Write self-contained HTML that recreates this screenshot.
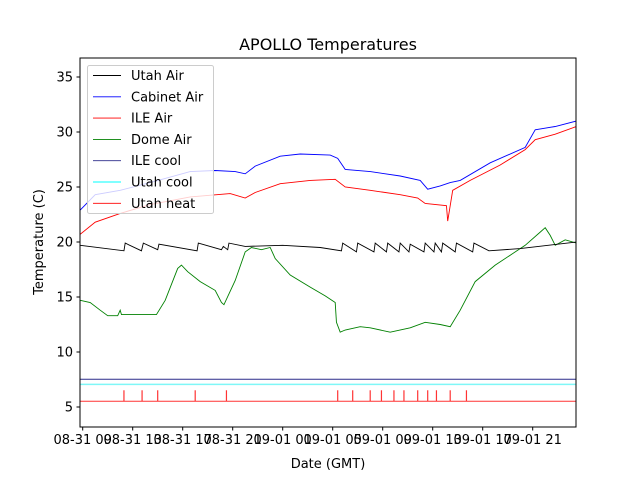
<!DOCTYPE html>
<html><head><meta charset="utf-8"><style>
body{margin:0;background:#fff}
svg{font-family:"DejaVu Sans","Liberation Sans",sans-serif}
</style></head><body>
<svg id="c" width="640" height="480" xmlns="http://www.w3.org/2000/svg"></svg>
<script>
// Hours since 08-31 09:00 GMT
const xTickHours=[0,4,8,12,16,20,24,28,32,36];
const xTickLabels=["08-31 09","08-31 13","08-31 17","08-31 21","09-01 01","09-01 05","09-01 09","09-01 13","09-01 17","09-01 21"];
const yTicks=[5,10,15,20,25,30,35];
const cabinetT=[-0.2,1.0,3.0,5.4,8.6,10.6,12.2,13.0,13.8,15.8,17.4,19.8,20.4,21.0,23.0,25.4,27.0,27.6,28.6,29.4,30.2,32.6,35.4,36.2,37.8,39.5];
const cabinetV=[22.9,24.3,24.7,25.4,26.4,26.5,26.4,26.2,26.9,27.8,28.0,27.9,27.6,26.6,26.4,26.0,25.6,24.8,25.1,25.4,25.6,27.2,28.6,30.2,30.5,31.0];
const ileT=[-0.2,1.0,3.0,5.4,8.6,11.8,13.0,13.8,15.8,18.2,20.2,21.0,23.0,25.4,26.8,27.4,29.1,29.2,29.6,31.0,33.4,35.4,36.2,37.8,39.5];
const ileV=[20.7,21.8,22.6,23.4,24.1,24.4,24.0,24.5,25.3,25.6,25.7,25.0,24.7,24.3,24.0,23.5,23.3,21.9,24.7,25.6,27.0,28.4,29.3,29.8,30.5];
const domeT=[-0.2,0.6,1.4,2.0,2.8,3.0,3.1,5.4,5.9,6.6,7.6,7.9,8.4,9.4,10.6,11.1,11.3,12.2,13.0,13.5,14.3,15.0,15.4,16.6,18.2,19.4,20.2,20.3,20.6,21.0,22.2,23.0,24.6,26.2,27.4,28.6,29.4,30.2,31.4,33.0,34.2,35.4,36.6,37.0,37.4,37.8,38.6,39.5];
const domeV=[14.7,14.5,13.8,13.3,13.3,13.8,13.4,13.4,13.4,14.7,17.6,17.9,17.3,16.4,15.6,14.5,14.3,16.5,19.1,19.5,19.3,19.5,18.5,17.0,15.9,15.1,14.5,12.7,11.8,12.0,12.3,12.2,11.8,12.2,12.7,12.5,12.3,13.8,16.4,17.9,18.8,19.7,20.9,21.3,20.6,19.7,20.2,19.9];
const utahT=[-0.2,3.3,3.4,4.7,4.85,6.0,6.1,9.15,9.25,11.1,11.25,11.6,11.7,13.0,16.0,19.0,20.7,20.8,21.9,22.0,23.3,23.4,24.3,24.4,25.3,25.4,26.1,26.2,27.3,27.4,28.1,28.2,28.7,28.8,29.8,29.9,31.2,31.3,32.5,35.0,39.5];
const utahV=[19.7,19.2,19.9,19.2,19.9,19.3,19.8,19.2,19.9,19.3,19.6,19.3,19.9,19.6,19.7,19.5,19.2,19.9,19.1,19.9,19.1,19.9,19.1,19.9,19.1,19.9,19.1,19.8,19.1,19.9,19.1,19.9,19.1,19.9,19.1,19.9,19.1,19.9,19.2,19.4,20.0];
const heatSpikes=[3.3,4.75,6.0,9.0,11.5,20.4,21.6,23.0,23.9,24.9,25.7,26.8,27.6,28.3,29.4,30.7];
const heatBase=5.52, heatOn=6.52, utahCool=7.06, ileCool=7.52;

const L=80,R=576,T=58,B=427;
const X=h=>82.7+h*12.5;
const Y=v=>407-(v-5)*11;
const svg=document.getElementById('c');
const NS="http://www.w3.org/2000/svg";
function mk(tag,attrs,parent){const e=document.createElementNS(NS,tag);for(const k in attrs)e.setAttribute(k,attrs[k]);(parent||svg).appendChild(e);return e;}
const defs=mk('defs',{});const cp=mk('clipPath',{id:'cp'},defs);mk('rect',{x:L,y:T,width:R-L,height:B-T},cp);
const g=mk('g',{'clip-path':'url(#cp)'});
function line(ts,vs,color,name){
  const p=mk('polyline',{points:ts.map((t,i)=>X(t)+','+Y(vs[i])).join(' '),fill:'none',stroke:color,'stroke-width':0.9},g);
  
  
}
function hline(v,color,name,w){
  const p=mk('line',{x1:L,x2:R,y1:Y(v),y2:Y(v),stroke:color,'stroke-width':w},g);
  
  
}
hline(ileCool,'#2b2b8a','ile-cool-line',1);
hline(utahCool,'#7ff7f7','utah-cool-line',1.5);
hline(heatBase,'#ff3333','utah-heat-baseline',1);
heatSpikes.forEach(h=>{
  const s=mk('line',{x1:X(h),x2:X(h),y1:Y(heatBase),y2:Y(heatOn),stroke:'#ff3333','stroke-width':1.2},g);
  
  
});
line(domeT,domeV,'#008000','dome-air-line');
line(utahT,utahV,'#000000','utah-air-line');
line(ileT,ileV,'#ff0000','ile-air-line');
line(cabinetT,cabinetV,'#0000ff','cabinet-air-line');
// frame
const fr=mk('rect',{x:L,y:T,width:R-L,height:B-T,fill:'none',stroke:'#000','stroke-width':1});


yTicks.forEach(v=>{
  mk('line',{x1:L-3.5,x2:L,y1:Y(v),y2:Y(v),stroke:'#000'});
  const t=mk('text',{x:L-7,y:Y(v)+4.5,'text-anchor':'end','font-size':13});t.textContent=v;
  
  
});
xTickHours.forEach((h,i)=>{
  mk('line',{x1:X(h),x2:X(h),y1:B,y2:B+3.5,stroke:'#000'});
  const t=mk('text',{x:X(h),y:B+17,'text-anchor':'middle','font-size':13});t.textContent=xTickLabels[i];
  
  
});
const title=mk('text',{x:328,y:50,'text-anchor':'middle','font-size':16});title.textContent='APOLLO Temperatures';


const xl=mk('text',{x:328,y:468,'text-anchor':'middle','font-size':13});xl.textContent='Date (GMT)';


const yl=mk('text',{x:0,y:0,'text-anchor':'middle','font-size':13,transform:'translate(43,242) rotate(-90)'});yl.textContent='Temperature (C)';


// legend
const lg=mk('g',{});


mk('rect',{x:87.5,y:65.5,width:126,height:148,rx:2,fill:'#fff','fill-opacity':0.8,stroke:'#ccc'},lg);
const names=['Utah Air','Cabinet Air','ILE Air','Dome Air','ILE cool','Utah cool','Utah heat'];
const cols=['#000','#0000ff','#ff0000','#008000','#2b2b8a','#00ffff','#ff0000'];
names.forEach((n,i)=>{
  const y=75.5+i*21.3;
  mk('line',{x1:93,x2:121,y1:y,y2:y,stroke:cols[i],'stroke-width':0.9},lg);
  const t=mk('text',{x:131,y:y+4.5,'font-size':13},lg);t.textContent=n;
  
  
});
</script>
</body></html>
